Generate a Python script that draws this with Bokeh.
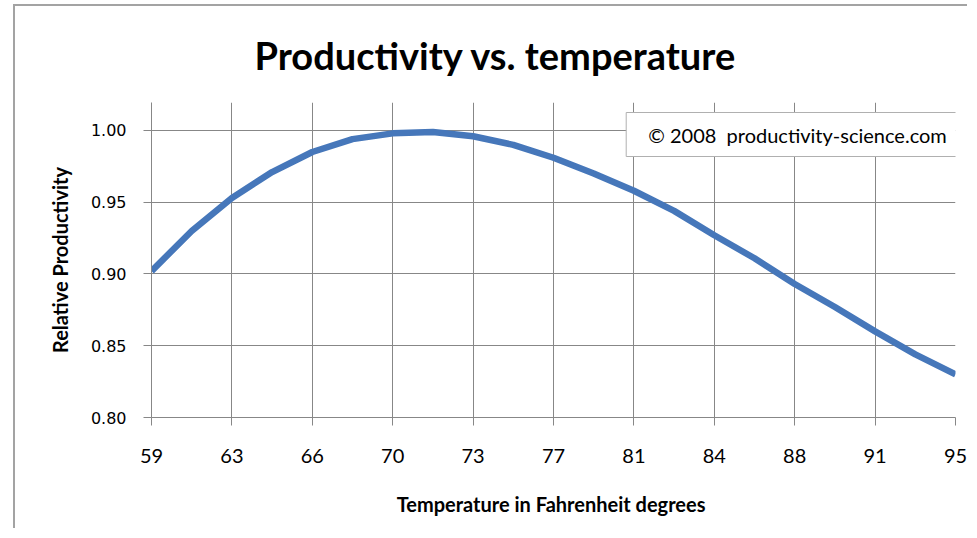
from bokeh.plotting import figure
from bokeh.models import FixedTicker, NumeralTickFormatter, Range1d, Label, ColumnDataSource
from bokeh.embed import file_html
from bokeh.resources import INLINE

temps_f = [59, 60.8, 62.6, 64.4, 66.2, 68, 69.8, 71.6, 73.4, 75.2, 77,
           78.8, 80.6, 82.4, 84.2, 86, 87.8, 89.6, 91.4, 93.2, 95]
productivity = [0.902, 0.930, 0.953, 0.971, 0.985, 0.994, 0.998, 0.999, 0.996, 0.990, 0.981,
                0.970, 0.958, 0.944, 0.927, 0.911, 0.893, 0.877, 0.860, 0.844, 0.830]
x_ticks = temps_f[::2]
y_ticks = [0.80, 0.85, 0.90, 0.95, 1.00]

title_text = "Productivity vs. temperature"
x_title = "Temperature  in Fahrenheit degrees"
y_title = "Relative Productivity"
credit = "\u00a9 2008 \u00a0productivity-science.com"

GRID = "#878787"
BLUE = "#4677BA"
FONT = "Lato"

src = ColumnDataSource(dict(t=temps_f, p=productivity))

p = figure(width=954, height=524, output_backend="svg", toolbar_location=None,
           x_range=Range1d(59, 95), y_range=Range1d(0.80, 1.0195),
           min_border_left=136, min_border_right=14, min_border_top=96, min_border_bottom=113)
p.margin = (4, 0, 0, 13)
p.styles = {"border-left": "2px solid #A3A3A3", "border-top": "2px solid #A3A3A3"}

p.outline_line_color = None
p.border_fill_color = "white"
p.background_fill_color = "white"

p.title.text = title_text
p.title.align = "left"
p.title.vertical_align = "top"
p.title.text_font = FONT
p.title.text_font_style = "bold"
p.title.text_font_size = "38px"
p.title.text_color = "black"
p.title.offset = 103
p.title.standoff = 46

p.line("t", "p", source=src, line_color=BLUE, line_width=6.5, line_join="round")

p.xaxis.ticker = FixedTicker(ticks=x_ticks)
p.yaxis.ticker = FixedTicker(ticks=y_ticks)
p.xaxis.formatter = NumeralTickFormatter(format="0")
p.yaxis.formatter = NumeralTickFormatter(format="0.00")

for ax in (p.xaxis[0], p.yaxis[0]):
    ax.axis_line_color = GRID
    ax.major_tick_line_color = GRID
    ax.minor_tick_line_color = None
    ax.major_tick_out = 8
    ax.major_tick_in = 0
    ax.axis_label_text_font = FONT
    ax.axis_label_text_font_style = "bold"
    ax.axis_label_text_font_size = "20px"
    ax.axis_label_text_color = "black"
    ax.major_label_text_color = "black"

p.xaxis.axis_label = x_title
p.yaxis.axis_label = y_title
p.xaxis.major_label_text_font = FONT
p.xaxis.major_label_text_font_size = "20px"
p.xaxis.major_label_standoff = 23
p.xaxis.axis_label_standoff = 26
p.yaxis.major_label_text_font = "DejaVu Sans"
p.yaxis.major_label_text_font_size = "16px"
p.yaxis.major_label_standoff = 17
p.yaxis.axis_label_standoff = 16

p.xgrid.ticker = FixedTicker(ticks=x_ticks)
p.ygrid.ticker = FixedTicker(ticks=y_ticks)
p.xgrid.grid_line_color = GRID
p.ygrid.grid_line_color = GRID

lbl = Label(x=646, y=283, x_units="screen", y_units="screen", text=credit,
            text_align="center", text_baseline="middle", text_font=FONT,
            text_font_size="20px", text_color="black",
            background_fill_color="white", border_line_color="#B0B0B0",
            padding=(22, 10))
p.add_layout(lbl)

open("out.html", "w").write(file_html(p, INLINE))
